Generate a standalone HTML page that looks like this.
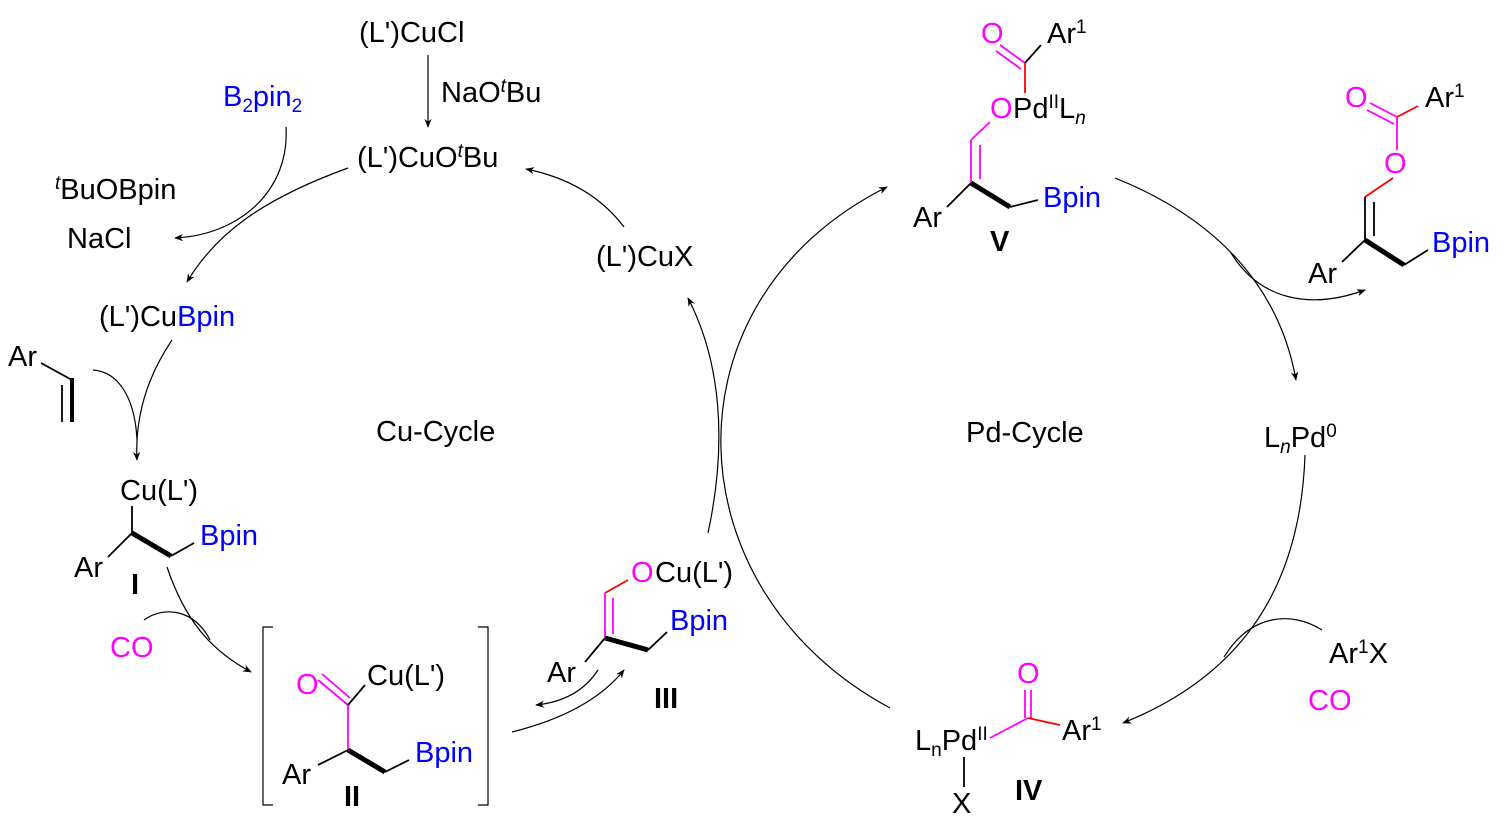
<!DOCTYPE html>
<html><head><meta charset="utf-8"><style>
html,body{margin:0;padding:0;background:#fff;}
svg{display:block;}
text{font-family:"Liberation Sans",Arial,sans-serif;font-size:29px;fill:#000;}
.b{fill:#0000ff}.m{fill:#ff00ff}.bold{font-weight:bold}
.sup{font-size:19px}
</style></head><body>
<svg width="1504" height="824" viewBox="0 0 1504 824" xmlns="http://www.w3.org/2000/svg">
<defs><marker id="a" viewBox="0 0 10 10" refX="9" refY="5" markerWidth="9" markerHeight="9" orient="auto-start-reverse" markerUnits="userSpaceOnUse"><path d="M0,1 L10,5 L0,9 L3,5 Z" fill="#000"/></marker></defs>
<g fill="none" stroke="#000" stroke-width="1.2">
<path d="M428,55 L428,127" marker-end="url(#a)"/>
<path d="M286,127 C290,190 240,235 175,238" marker-end="url(#a)"/>
<path d="M348,168 C260,200 215,235 187,282" marker-end="url(#a)"/>
<path d="M624,227 Q590,182 526,169" marker-end="url(#a)"/>
<path d="M708,533 C728,440 720,360 688,298" marker-end="url(#a)"/>
<path d="M172,340 C145,380 135,420 137,460" marker-end="url(#a)"/>
<path d="M93,370 C120,372 135,400 137,440"/>
<path d="M167,567 C185,620 210,650 251,672" marker-end="url(#a)"/>
<path d="M144,620 C165,605 195,610 210,640"/>
<path d="M512,732 C560,720 600,700 624,670" marker-end="url(#a)"/>
<path d="M598,670 C585,690 565,702 536,705" marker-end="url(#a)"/>
<path d="M890,708 C670,590 660,300 887,187" marker-end="url(#a)"/>
<path d="M1115,178 C1220,220 1280,290 1296,380" marker-end="url(#a)"/>
<path d="M1231,253 C1260,300 1310,310 1365,290" marker-end="url(#a)"/>
<path d="M1305,455 C1300,600 1230,680 1123,723" marker-end="url(#a)"/>
<path d="M1322,630 C1290,610 1250,615 1224,657"/>
<path d="M273,627 L263,627 L263,805 L273,805"/>
<path d="M478,627 L488,627 L488,805 L478,805"/>
</g>
<g stroke-width="1.8" fill="none">
<path d="M41,363 L72,380" stroke="#000"/>
<path d="M72,378 L72,422" stroke="#000" stroke-width="4"/>
<path d="M62,385 L62,422" stroke="#000"/>
<path d="M132,506 L132,533 M108,557 L132,533 M171,556 L194,543" stroke="#000"/>
<path d="M132,533 L171,556" stroke="#000" stroke-width="5"/>
<path d="M318,680 L348,705 M322,674 L350,698" stroke="#f0f"/>
<path d="M348,705 L348,750" stroke="#f0f"/>
<path d="M348,705 L365,685 M318,765 L348,750 M385,772 L409,760" stroke="#000"/>
<path d="M348,750 L385,772" stroke="#000" stroke-width="5"/>
<path d="M628,580 L605,593" stroke="#f00"/>
<path d="M605,593 L605,638 M613,598 L613,634" stroke="#f0f"/>
<path d="M585,662 L605,638 M648,650 L667,632" stroke="#000"/>
<path d="M605,638 L648,650" stroke="#000" stroke-width="5"/>
<path d="M1000,45 L1025,63 M996,51 L1021,69" stroke="#f0f"/>
<path d="M1025,63 L1041,45" stroke="#000"/>
<path d="M1025,63 L1025,93" stroke="#f00"/>
<path d="M990,122 L971,140 M971,140 L971,183 M980,145 L980,179" stroke="#f0f"/>
<path d="M947,207 L971,183 M1010,207 L1038,200" stroke="#000"/>
<path d="M971,183 L1010,207" stroke="#000" stroke-width="5"/>
<path d="M1370,103 L1397,117 M1367,110 L1394,124" stroke="#f0f"/>
<path d="M1397,117 L1418,106" stroke="#f00"/>
<path d="M1397,117 L1397,150" stroke="#f0f"/>
<path d="M1393,178 L1365,197" stroke="#f00"/>
<path d="M1365,197 L1365,240 M1374,202 L1374,236 M1342,262 L1365,240 M1404,265 L1428,250" stroke="#000"/>
<path d="M1365,240 L1404,265" stroke="#000" stroke-width="5"/>
<path d="M1025,690 L1025,718 M1031,690 L1031,718" stroke="#f0f"/>
<path d="M1028,718 L990,738" stroke="#f0f"/>
<path d="M1028,718 L1060,725" stroke="#f00"/>
<path d="M964,757 L964,787" stroke="#000"/>
</g>
<text x="359" y="42">(L')CuCl</text>
<text x="441" y="102">NaO<tspan class="sup" dy="-10" font-style="italic">t</tspan><tspan dy="10">Bu</tspan></text>
<text x="223" y="106" class="b">B<tspan font-size="19" dy="6">2</tspan><tspan dy="-6">pin</tspan><tspan font-size="19" dy="6">2</tspan></text>
<text x="357" y="167">(L')CuO<tspan class="sup" dy="-10" font-style="italic">t</tspan><tspan dy="10">Bu</tspan></text>
<text x="55" y="199"><tspan class="sup" dy="-10" font-style="italic">t</tspan><tspan dy="10">BuOBpin</tspan></text>
<text x="67" y="248">NaCl</text>
<text x="99" y="326">(L')Cu<tspan class="b">Bpin</tspan></text>
<text x="596" y="266">(L')CuX</text>
<text x="8" y="366">Ar</text>
<text x="376" y="441">Cu-Cycle</text>
<text x="120" y="500">Cu(L')</text>
<text x="200" y="545" class="b">Bpin</text>
<text x="74" y="577">Ar</text>
<text x="131" y="594" class="bold">I</text>
<text x="110" y="657" class="m">CO</text>
<text x="296" y="694" class="m">O</text>
<text x="367" y="685">Cu(L')</text>
<text x="415" y="762" class="b">Bpin</text>
<text x="282" y="784">Ar</text>
<text x="344" y="806" class="bold">II</text>
<text x="631" y="582" class="m">O</text>
<text x="655" y="582">Cu(L')</text>
<text x="670" y="630" class="b">Bpin</text>
<text x="547" y="682">Ar</text>
<text x="654" y="708" class="bold">III</text>
<text x="981" y="43" class="m">O</text>
<text x="1047" y="43">Ar<tspan class="sup" dy="-10">1</tspan></text>
<text x="990" y="118" class="m">O</text>
<text x="1013" y="118">Pd<tspan class="sup" dy="-10">II</tspan><tspan dy="10">L</tspan><tspan class="sup" dy="6" font-style="italic">n</tspan></text>
<text x="1043" y="207" class="b">Bpin</text>
<text x="913" y="227">Ar</text>
<text x="990" y="251" class="bold">V</text>
<text x="1345" y="107" class="m">O</text>
<text x="1425" y="107">Ar<tspan class="sup" dy="-10">1</tspan></text>
<text x="1384" y="173" class="m">O</text>
<text x="1432" y="252" class="b">Bpin</text>
<text x="1308" y="283">Ar</text>
<text x="966" y="442">Pd-Cycle</text>
<text x="1264" y="447">L<tspan class="sup" dy="6" font-style="italic">n</tspan><tspan dy="-6">Pd</tspan><tspan class="sup" dy="-10">0</tspan></text>
<text x="1329" y="663">Ar<tspan class="sup" dy="-10">1</tspan><tspan dy="10">X</tspan></text>
<text x="1308" y="710" class="m">CO</text>
<text x="1017" y="683" class="m">O</text>
<text x="1062" y="740">Ar<tspan class="sup" dy="-10">1</tspan></text>
<text x="915" y="750">L<tspan class="sup" dy="6">n</tspan><tspan dy="-6">Pd</tspan><tspan class="sup" dy="-10">II</tspan></text>
<text x="952" y="813">X</text>
<text x="1015" y="800" class="bold">IV</text>
</svg>
</body></html>
